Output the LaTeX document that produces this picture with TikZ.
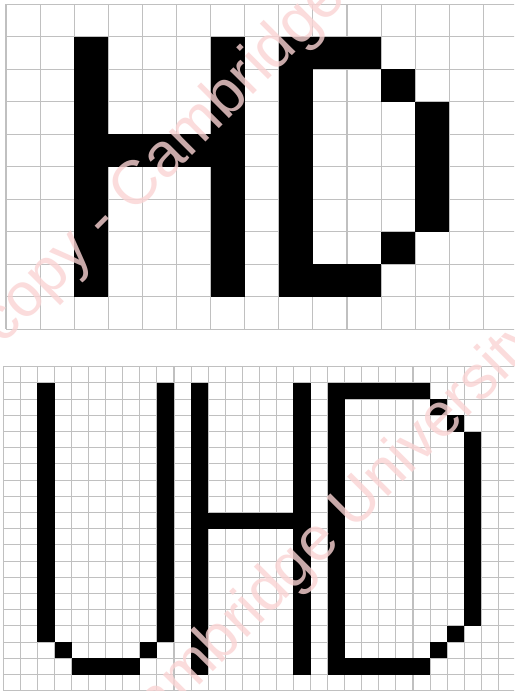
\documentclass[tikz,border=0pt]{standalone}
\usepackage{fontspec}
\newfontfamily\wmfont{Liberation Sans}
\definecolor{gridgray}{RGB}{192,192,192}
\definecolor{wmpink}{RGB}{250,212,212}
\tikzset{
  gridline/.style={draw=gridgray, line width=0.8pt},
  pix/.style={fill=black},
  watermark/.style={text=wmpink, text opacity=0.8, inner sep=0pt, rotate=45, anchor=base west, font=\wmfont\fontsize{46.5}{50}\selectfont}
}
\begin{document}
\begin{tikzpicture}[x=0.75pt, y=-0.75pt]
\useasboundingbox (0,0) rectangle (514,691);
\clip (0,0) rectangle (514,691);
\fill[white] (0,0) rectangle (514,691);
% ---------- top grid (HD) ----------
\begin{scope}[xshift=4.5pt, yshift=-3.225pt, x=25.575pt, y=-24.375pt]
  \foreach \i in {0,...,15} \draw[gridline] (\i,0) -- (\i,10);
  \foreach \j in {0,...,10} \draw[gridline] (0,\j) -- (15.2,\j);
  % H
  \fill[pix] (2,1) rectangle (3,9);
  \fill[pix] (6,1) rectangle (7,9);
  \fill[pix] (3,4) rectangle (6,5);
  % D
  \fill[pix] (8,1) rectangle (9,9);
  \fill[pix] (9,1) rectangle (11,2);
  \fill[pix] (11,2) rectangle (12,3);
  \fill[pix] (12,3) rectangle (13,7);
  \fill[pix] (11,7) rectangle (12,8);
  \fill[pix] (9,8) rectangle (11,9);
\end{scope}
% ---------- bottom grid (UHD) ----------
\begin{scope}[xshift=2.475pt, yshift=-275.025pt, x=12.8025pt, y=-12.15pt]
  \foreach \i in {0,...,30} \draw[gridline] (\i,0) -- (\i,20);
  \foreach \j in {0,...,20} \draw[gridline] (0,\j) -- (30.2,\j);
  % U
  \fill[pix] (2,1) rectangle (3,17);
  \fill[pix] (9,1) rectangle (10,17);
  \fill[pix] (3,17) rectangle (4,18);
  \fill[pix] (8,17) rectangle (9,18);
  \fill[pix] (4,18) rectangle (8,19);
  % H
  \fill[pix] (11,1) rectangle (12,19);
  \fill[pix] (17,1) rectangle (18,19);
  \fill[pix] (12,9) rectangle (17,10);
  % D
  \fill[pix] (19,1) rectangle (20,19);
  \fill[pix] (20,1) rectangle (25,2);
  \fill[pix] (25,2) rectangle (26,3);
  \fill[pix] (26,3) rectangle (27,4);
  \fill[pix] (27,4) rectangle (28,16);
  \fill[pix] (26,16) rectangle (27,17);
  \fill[pix] (25,17) rectangle (26,18);
  \fill[pix] (20,18) rectangle (25,19);
\end{scope}
% ---------- watermark ----------
\node[watermark] (wmtop) at (2,346) {copy - Cambridge};
\node[watermark] (wmbot) at (127,758) {Cambridge University};
\end{tikzpicture}
\end{document}
